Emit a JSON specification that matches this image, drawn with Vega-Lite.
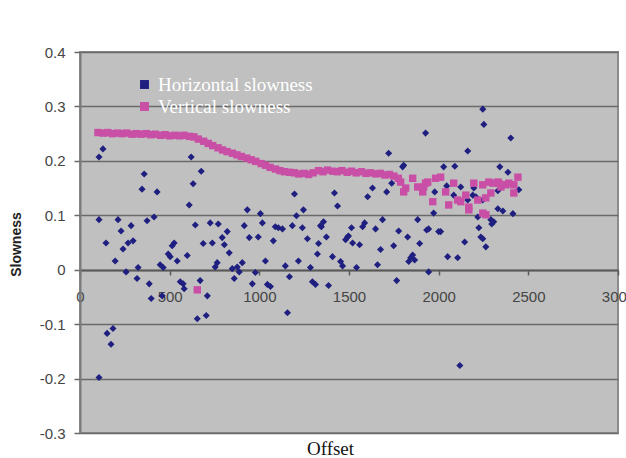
{
  "$schema": "https://vega.github.io/schema/vega-lite/v6.json",
  "autosize": {"type": "none"},
  "padding": {"left": 80, "top": 52, "right": 8, "bottom": 25},
  "width": 538,
  "height": 381,
  "background": "white",
  "config": {
    "view": {"fill": "#c0c0c0", "stroke": "#8c8c8c", "strokeWidth": 2}
  },
  "datasets": {
    "h": [
      {"offset": 106, "slowness": 0.207}, {"offset": 128, "slowness": 0.222}, {"offset": 106, "slowness": 0.092},
      {"offset": 212, "slowness": 0.092}, {"offset": 229, "slowness": 0.071}, {"offset": 285, "slowness": 0.081},
      {"offset": 346, "slowness": 0.148}, {"offset": 358, "slowness": 0.176}, {"offset": 374, "slowness": 0.090},
      {"offset": 413, "slowness": 0.097}, {"offset": 430, "slowness": 0.143}, {"offset": 609, "slowness": 0.119},
      {"offset": 620, "slowness": 0.207}, {"offset": 631, "slowness": 0.158}, {"offset": 643, "slowness": 0.082},
      {"offset": 676, "slowness": 0.181}, {"offset": 726, "slowness": 0.086}, {"offset": 771, "slowness": 0.084},
      {"offset": 821, "slowness": 0.070}, {"offset": 916, "slowness": 0.081}, {"offset": 933, "slowness": 0.110},
      {"offset": 1006, "slowness": 0.103}, {"offset": 1017, "slowness": 0.086}, {"offset": 1089, "slowness": 0.079},
      {"offset": 1106, "slowness": 0.077}, {"offset": 1129, "slowness": 0.075}, {"offset": 1184, "slowness": 0.081},
      {"offset": 1196, "slowness": 0.139}, {"offset": 1207, "slowness": 0.099}, {"offset": 1246, "slowness": 0.110},
      {"offset": 1240, "slowness": 0.077}, {"offset": 1268, "slowness": 0.057}, {"offset": 1341, "slowness": 0.081},
      {"offset": 145, "slowness": 0.049}, {"offset": 196, "slowness": 0.016}, {"offset": 240, "slowness": 0.038},
      {"offset": 268, "slowness": 0.049}, {"offset": 296, "slowness": 0.053}, {"offset": 257, "slowness": -0.004},
      {"offset": 318, "slowness": -0.016}, {"offset": 324, "slowness": 0.004}, {"offset": 386, "slowness": -0.026},
      {"offset": 397, "slowness": -0.053}, {"offset": 447, "slowness": 0.009}, {"offset": 464, "slowness": 0.004},
      {"offset": 458, "slowness": -0.048}, {"offset": 492, "slowness": 0.029}, {"offset": 503, "slowness": 0.024},
      {"offset": 514, "slowness": 0.044}, {"offset": 525, "slowness": 0.049}, {"offset": 542, "slowness": 0.016},
      {"offset": 559, "slowness": -0.022}, {"offset": 575, "slowness": -0.026}, {"offset": 581, "slowness": -0.035},
      {"offset": 598, "slowness": 0.026}, {"offset": 670, "slowness": -0.020}, {"offset": 687, "slowness": 0.048},
      {"offset": 738, "slowness": 0.049}, {"offset": 710, "slowness": -0.048}, {"offset": 654, "slowness": -0.090},
      {"offset": 704, "slowness": -0.084}, {"offset": 754, "slowness": 0.005}, {"offset": 765, "slowness": 0.013},
      {"offset": 793, "slowness": 0.059}, {"offset": 805, "slowness": 0.046}, {"offset": 832, "slowness": 0.031},
      {"offset": 849, "slowness": 0.002}, {"offset": 860, "slowness": -0.016}, {"offset": 877, "slowness": 0.005},
      {"offset": 888, "slowness": -0.004}, {"offset": 905, "slowness": 0.013}, {"offset": 944, "slowness": 0.059},
      {"offset": 994, "slowness": 0.060}, {"offset": 961, "slowness": -0.026}, {"offset": 978, "slowness": -0.005},
      {"offset": 1034, "slowness": 0.016}, {"offset": 1078, "slowness": 0.053}, {"offset": 1145, "slowness": 0.007},
      {"offset": 1157, "slowness": -0.079}, {"offset": 1168, "slowness": -0.013}, {"offset": 1218, "slowness": 0.016},
      {"offset": 1285, "slowness": 0.004}, {"offset": 1296, "slowness": -0.022}, {"offset": 1313, "slowness": -0.027},
      {"offset": 1324, "slowness": 0.029}, {"offset": 1330, "slowness": 0.048}, {"offset": 106, "slowness": -0.198},
      {"offset": 151, "slowness": -0.117}, {"offset": 173, "slowness": -0.137}, {"offset": 184, "slowness": -0.108},
      {"offset": 1045, "slowness": -0.027}, {"offset": 1062, "slowness": -0.031}, {"offset": 1436, "slowness": 0.117},
      {"offset": 1358, "slowness": 0.088}, {"offset": 1346, "slowness": 0.079}, {"offset": 1374, "slowness": 0.060},
      {"offset": 1386, "slowness": -0.029}, {"offset": 1408, "slowness": 0.024}, {"offset": 1453, "slowness": 0.015},
      {"offset": 1464, "slowness": 0.007}, {"offset": 1481, "slowness": 0.055}, {"offset": 1492, "slowness": 0.060},
      {"offset": 1497, "slowness": 0.062}, {"offset": 1520, "slowness": 0.049}, {"offset": 1559, "slowness": 0.046},
      {"offset": 1514, "slowness": 0.077}, {"offset": 1576, "slowness": 0.079}, {"offset": 1587, "slowness": 0.086},
      {"offset": 1542, "slowness": 0.004}, {"offset": 1648, "slowness": 0.075}, {"offset": 1687, "slowness": 0.092},
      {"offset": 1676, "slowness": 0.037}, {"offset": 1659, "slowness": 0.009}, {"offset": 1749, "slowness": 0.044},
      {"offset": 1777, "slowness": 0.071}, {"offset": 1766, "slowness": -0.020}, {"offset": 1827, "slowness": 0.060},
      {"offset": 1883, "slowness": 0.092}, {"offset": 1933, "slowness": 0.073}, {"offset": 1894, "slowness": 0.048},
      {"offset": 1844, "slowness": 0.022}, {"offset": 1855, "slowness": 0.027}, {"offset": 1866, "slowness": 0.018},
      {"offset": 1833, "slowness": 0.015}, {"offset": 1944, "slowness": -0.004}, {"offset": 1419, "slowness": 0.141},
      {"offset": 1604, "slowness": 0.134}, {"offset": 1631, "slowness": 0.150}, {"offset": 1710, "slowness": 0.143},
      {"offset": 1738, "slowness": 0.159}, {"offset": 1721, "slowness": 0.214}, {"offset": 1805, "slowness": 0.192},
      {"offset": 1799, "slowness": 0.189}, {"offset": 1927, "slowness": 0.251}, {"offset": 2246, "slowness": 0.295},
      {"offset": 2252, "slowness": 0.267}, {"offset": 2402, "slowness": 0.242}, {"offset": 2162, "slowness": 0.218},
      {"offset": 2028, "slowness": 0.189}, {"offset": 2090, "slowness": 0.190}, {"offset": 2341, "slowness": 0.189},
      {"offset": 2386, "slowness": 0.179}, {"offset": 1978, "slowness": 0.143}, {"offset": 2045, "slowness": 0.154},
      {"offset": 2084, "slowness": 0.137}, {"offset": 2123, "slowness": 0.152}, {"offset": 2196, "slowness": 0.150},
      {"offset": 2190, "slowness": 0.137}, {"offset": 2162, "slowness": 0.128}, {"offset": 2246, "slowness": 0.128},
      {"offset": 2330, "slowness": 0.112}, {"offset": 2358, "slowness": 0.108}, {"offset": 2414, "slowness": 0.103},
      {"offset": 2447, "slowness": 0.147}, {"offset": 1972, "slowness": 0.104}, {"offset": 2218, "slowness": 0.097},
      {"offset": 2291, "slowness": 0.092}, {"offset": 2307, "slowness": 0.088}, {"offset": 2296, "slowness": 0.084},
      {"offset": 1944, "slowness": 0.075}, {"offset": 2000, "slowness": 0.070}, {"offset": 2011, "slowness": 0.070},
      {"offset": 2145, "slowness": 0.051}, {"offset": 2050, "slowness": 0.024}, {"offset": 2106, "slowness": 0.022},
      {"offset": 2224, "slowness": 0.077}, {"offset": 2235, "slowness": 0.060}, {"offset": 2246, "slowness": 0.057},
      {"offset": 2263, "slowness": 0.042}, {"offset": 2118, "slowness": -0.176}, {"offset": 2330, "slowness": 0.145},
      {"offset": 2207, "slowness": 0.134}
    ],
    "v": [
      {"offset": 100, "slowness": 0.252}, {"offset": 130, "slowness": 0.251}, {"offset": 155, "slowness": 0.252},
      {"offset": 180, "slowness": 0.250}, {"offset": 210, "slowness": 0.251}, {"offset": 235, "slowness": 0.250},
      {"offset": 260, "slowness": 0.251}, {"offset": 290, "slowness": 0.249}, {"offset": 315, "slowness": 0.250},
      {"offset": 340, "slowness": 0.249}, {"offset": 370, "slowness": 0.250}, {"offset": 395, "slowness": 0.248},
      {"offset": 420, "slowness": 0.249}, {"offset": 450, "slowness": 0.247}, {"offset": 475, "slowness": 0.248},
      {"offset": 500, "slowness": 0.246}, {"offset": 530, "slowness": 0.247}, {"offset": 555, "slowness": 0.246},
      {"offset": 580, "slowness": 0.247}, {"offset": 610, "slowness": 0.245}, {"offset": 635, "slowness": 0.244},
      {"offset": 660, "slowness": 0.240}, {"offset": 690, "slowness": 0.236}, {"offset": 715, "slowness": 0.232},
      {"offset": 740, "slowness": 0.228}, {"offset": 770, "slowness": 0.224}, {"offset": 795, "slowness": 0.220},
      {"offset": 820, "slowness": 0.217}, {"offset": 850, "slowness": 0.214}, {"offset": 875, "slowness": 0.211},
      {"offset": 900, "slowness": 0.208}, {"offset": 930, "slowness": 0.205}, {"offset": 955, "slowness": 0.202},
      {"offset": 980, "slowness": 0.199}, {"offset": 1010, "slowness": 0.195}, {"offset": 1035, "slowness": 0.192},
      {"offset": 1060, "slowness": 0.188}, {"offset": 1090, "slowness": 0.185}, {"offset": 1115, "slowness": 0.182},
      {"offset": 1140, "slowness": 0.180}, {"offset": 1170, "slowness": 0.179}, {"offset": 1195, "slowness": 0.178},
      {"offset": 1220, "slowness": 0.176}, {"offset": 1250, "slowness": 0.177}, {"offset": 1275, "slowness": 0.175},
      {"offset": 1300, "slowness": 0.178}, {"offset": 1330, "slowness": 0.182}, {"offset": 1355, "slowness": 0.180},
      {"offset": 1380, "slowness": 0.183}, {"offset": 1410, "slowness": 0.181}, {"offset": 1435, "slowness": 0.180},
      {"offset": 1460, "slowness": 0.182}, {"offset": 1490, "slowness": 0.179}, {"offset": 1515, "slowness": 0.181},
      {"offset": 1540, "slowness": 0.178}, {"offset": 1570, "slowness": 0.180}, {"offset": 1595, "slowness": 0.177},
      {"offset": 1620, "slowness": 0.178}, {"offset": 1650, "slowness": 0.176}, {"offset": 1675, "slowness": 0.177},
      {"offset": 1700, "slowness": 0.174}, {"offset": 1725, "slowness": 0.175}, {"offset": 1750, "slowness": 0.172},
      {"offset": 1775, "slowness": 0.168}, {"offset": 1788, "slowness": 0.161}, {"offset": 1816, "slowness": 0.150},
      {"offset": 1805, "slowness": 0.143}, {"offset": 1855, "slowness": 0.168}, {"offset": 1883, "slowness": 0.152},
      {"offset": 1939, "slowness": 0.161}, {"offset": 1916, "slowness": 0.152}, {"offset": 1911, "slowness": 0.143},
      {"offset": 1967, "slowness": 0.125}, {"offset": 1983, "slowness": 0.168}, {"offset": 2011, "slowness": 0.170},
      {"offset": 2039, "slowness": 0.143}, {"offset": 2056, "slowness": 0.119}, {"offset": 2084, "slowness": 0.159},
      {"offset": 2106, "slowness": 0.128}, {"offset": 2123, "slowness": 0.125}, {"offset": 2151, "slowness": 0.137},
      {"offset": 2168, "slowness": 0.115}, {"offset": 2196, "slowness": 0.159}, {"offset": 2218, "slowness": 0.128},
      {"offset": 2246, "slowness": 0.156}, {"offset": 2263, "slowness": 0.132}, {"offset": 2302, "slowness": 0.159},
      {"offset": 2291, "slowness": 0.141}, {"offset": 2330, "slowness": 0.161}, {"offset": 2347, "slowness": 0.152},
      {"offset": 2391, "slowness": 0.159}, {"offset": 2419, "slowness": 0.156}, {"offset": 2442, "slowness": 0.170},
      {"offset": 2419, "slowness": 0.141}, {"offset": 2246, "slowness": 0.104}, {"offset": 2263, "slowness": 0.101},
      {"offset": 2168, "slowness": 0.110}, {"offset": 1927, "slowness": 0.159}, {"offset": 2280, "slowness": 0.161},
      {"offset": 2375, "slowness": 0.156}, {"offset": 2336, "slowness": 0.159}, {"offset": 654, "slowness": -0.037}
    ]
  },
  "encoding": {
    "x": {
      "field": "offset", "type": "quantitative",
      "scale": {"domain": [0, 3000], "nice": false, "zero": false},
      "axis": {
        "title": "Offset", "offset": -163, "values": [0, 500, 1000, 1500, 2000, 2500, 3000], "format": "d",
        "grid": false, "domainColor": "#5a5a5a", "domainWidth": 2,
        "tickColor": "#5a5a5a", "tickSize": 5, "tickWidth": 1.5,
        "labelPadding": 14, "labelFont": "Liberation Sans", "labelFontSize": 15, "labelColor": "#454545",
        "labelOverlap": false, "labelFlush": false,
        "titleFont": "Liberation Serif", "titleFontSize": 19, "titleFontWeight": "normal", "titleColor": "#111111",
        "titleX": 250, "titleY": 178, "titleBaseline": "middle", "titleAlign": "center"
      }
    },
    "y": {
      "field": "slowness", "type": "quantitative",
      "scale": {"domain": [-0.3, 0.4], "nice": false, "zero": false},
      "axis": {
        "title": "Slowness", "values": [-0.3, -0.2, -0.1, 0, 0.1, 0.2, 0.3, 0.4],
        "labelExpr": "replace(format(datum.value, '.1~f'), '\u2212', '-')",
        "grid": true, "gridColor": "#6a6a6a", "gridWidth": 1.5,
        "domainColor": "#7a7a7a", "domainWidth": 2,
        "tickColor": "#6a6a6a", "tickSize": 6, "tickWidth": 1.5,
        "labelPadding": 9, "labelFont": "Liberation Sans", "labelFontSize": 15, "labelColor": "#454545",
        "titleFont": "Liberation Sans", "titleFontSize": 14, "titleFontWeight": "bold", "titleColor": "#222222",
        "titleX": -64, "titleY": 192, "titleAngle": -90, "titleBaseline": "middle", "titleAlign": "center"
      }
    },
    "color": {
      "field": "series", "type": "nominal",
      "scale": {"domain": ["Horizontal slowness", "Vertical slowness"], "range": ["#1f1f80", "#c94fa6"]},
      "legend": {
        "title": null, "orient": "none", "legendX": 55, "legendY": 23,
        "symbolType": "square", "symbolSize": 80, "symbolStrokeWidth": 0, "symbolOpacity": 1,
        "labelFont": "Liberation Serif", "labelFontSize": 19, "labelColor": "white",
        "rowPadding": 2, "labelOffset": 4
      }
    }
  },
  "layer": [
    {
      "data": {"name": "h"},
      "mark": {"type": "point", "shape": "diamond", "filled": true, "size": 50, "opacity": 1},
      "encoding": {"color": {"datum": "Horizontal slowness", "type": "nominal"}}
    },
    {
      "data": {"name": "v"},
      "mark": {"type": "point", "shape": "square", "filled": true, "size": 55, "opacity": 1},
      "encoding": {"color": {"datum": "Vertical slowness", "type": "nominal"}}
    }
  ]
}
